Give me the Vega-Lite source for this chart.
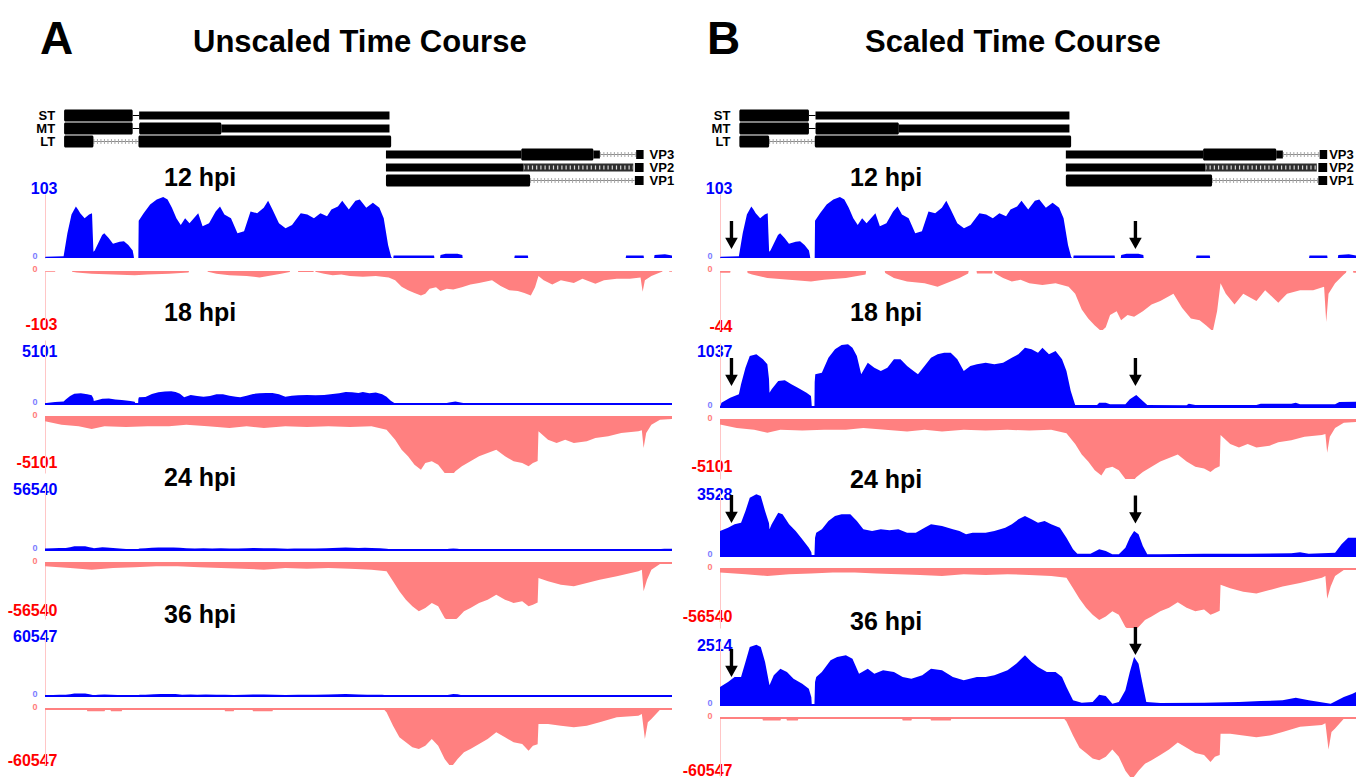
{
"$schema": "https://vega.github.io/schema/vega-lite/v6.json",
"padding": {"left": 7, "top": 17, "right": 0, "bottom": 0},
"background": "white",
"config": {
  "view": {"stroke": null},
  "font": "Liberation Sans",
  "title": {"font": "Liberation Sans", "fontWeight": "bold", "color": "#000000", "anchor": "start", "frame": "group"},
  "axisY": {
    "grid": false, "domainColor": "#ffc6c6", "domainWidth": 1,
    "tickSize": 7, "tickWidth": 1,
    "tickOpacity": {"condition": {"test": "datum.value == 0", "value": 1}, "value": 0},
    "labelFont": "Liberation Sans", "labelFontWeight": "bold",
    "labelFontSize": {"condition": {"test": "datum.value == 0", "value": 9}, "value": 16},
    "labelPadding": {"condition": {"test": "datum.value == 0", "value": 1}, "value": -19},
    "labelBaseline": {"condition": {"test": "datum.value == 0", "value": "alphabetic"}, "value": "middle"},
    "labelAlign": "right", "labelFlush": false, "labelOverlap": false, "labelBound": false,
    "labelExpr": "datum.value + ''"
  }
},
"datasets": {
  "genes": [
    {"gene":"ST","part":"cds","start":162,"end":744},
    {"gene":"ST","part":"link","start":744,"end":799},
    {"gene":"ST","part":"utr","start":799,"end":2923},
    {"gene":"MT","part":"cds","start":162,"end":744},
    {"gene":"MT","part":"link","start":744,"end":799},
    {"gene":"MT","part":"cds","start":799,"end":1496},
    {"gene":"MT","part":"utr","start":1496,"end":2923},
    {"gene":"LT","part":"cds","start":162,"end":411},
    {"gene":"LT","part":"intron","start":411,"end":793},
    {"gene":"LT","part":"cds","start":793,"end":2937},
    {"gene":"VP3","part":"utr","start":2893,"end":4041},
    {"gene":"VP3","part":"cds","start":4041,"end":4653},
    {"gene":"VP3","part":"utr","start":4653,"end":4708},
    {"gene":"VP3","part":"intron","start":4708,"end":5012},
    {"gene":"VP3","part":"cap","start":5016,"end":5079},
    {"gene":"VP2","part":"utr","start":2893,"end":4060},
    {"gene":"VP2","part":"chev","start":4060,"end":4992},
    {"gene":"VP2","part":"cap","start":5005,"end":5079},
    {"gene":"VP1","part":"cds","start":2893,"end":4116},
    {"gene":"VP1","part":"intron","start":4116,"end":5002},
    {"gene":"VP1","part":"cap","start":5005,"end":5079}
  ],
  "b12": [
    {"pos":0,"value":0},{"pos":5,"value":2},{"pos":158,"value":3},{"pos":190,"value":40},{"pos":225,"value":70},{"pos":262,"value":83},{"pos":280,"value":78},{"pos":299,"value":72},{"pos":336,"value":64},{"pos":374,"value":70},{"pos":399,"value":72},{"pos":405,"value":40},{"pos":411,"value":10},{"pos":422,"value":12},{"pos":485,"value":37},{"pos":503,"value":40},{"pos":540,"value":32},{"pos":577,"value":23},{"pos":633,"value":26},{"pos":670,"value":27},{"pos":707,"value":21},{"pos":744,"value":12},{"pos":752,"value":4},{"pos":755,"value":0},{"pos":792,"value":0},{"pos":795,"value":60},{"pos":837,"value":72},{"pos":892,"value":86},{"pos":948,"value":94},{"pos":1003,"value":98},{"pos":1040,"value":94},{"pos":1077,"value":81},{"pos":1115,"value":64},{"pos":1152,"value":53},{"pos":1189,"value":64},{"pos":1226,"value":56},{"pos":1263,"value":64},{"pos":1300,"value":72},{"pos":1337,"value":51},{"pos":1392,"value":56},{"pos":1448,"value":75},{"pos":1485,"value":83},{"pos":1522,"value":70},{"pos":1578,"value":64},{"pos":1633,"value":40},{"pos":1689,"value":43},{"pos":1744,"value":75},{"pos":1800,"value":72},{"pos":1856,"value":81},{"pos":1893,"value":92},{"pos":1930,"value":78},{"pos":1985,"value":56},{"pos":2041,"value":48},{"pos":2096,"value":53},{"pos":2170,"value":72},{"pos":2226,"value":70},{"pos":2282,"value":64},{"pos":2337,"value":72},{"pos":2393,"value":67},{"pos":2430,"value":78},{"pos":2485,"value":83},{"pos":2522,"value":92},{"pos":2578,"value":78},{"pos":2634,"value":92},{"pos":2671,"value":94},{"pos":2726,"value":81},{"pos":2782,"value":89},{"pos":2837,"value":81},{"pos":2874,"value":64},{"pos":2911,"value":21},{"pos":2937,"value":2},{"pos":2945,"value":0},{"pos":2955,"value":0},{"pos":2958,"value":4},{"pos":3301,"value":4},{"pos":3304,"value":0},{"pos":3352,"value":0},{"pos":3356,"value":5},{"pos":3400,"value":7},{"pos":3500,"value":7},{"pos":3541,"value":5},{"pos":3544,"value":0},{"pos":3982,"value":0},{"pos":3986,"value":4},{"pos":4097,"value":4},{"pos":4100,"value":0},{"pos":4927,"value":0},{"pos":4931,"value":4},{"pos":5079,"value":4},{"pos":5082,"value":0},{"pos":5168,"value":0},{"pos":5172,"value":5},{"pos":5260,"value":6},{"pos":5320,"value":4}
  ],
  "p12": [
    {"pos":0,"value":0},{"pos":2,"value":-1.3},{"pos":85,"value":-1.3},{"pos":88,"value":0},{"pos":228,"value":0},{"pos":231,"value":-1.5},{"pos":268,"value":-2.6},{"pos":396,"value":-5.2},{"pos":578,"value":-6.5},{"pos":761,"value":-7.9},{"pos":870,"value":-6.5},{"pos":1053,"value":-5.2},{"pos":1218,"value":-2.6},{"pos":1222,"value":0},{"pos":1378,"value":0},{"pos":1382,"value":-1.5},{"pos":1455,"value":-5.2},{"pos":1565,"value":-7.9},{"pos":1711,"value":-9.2},{"pos":1820,"value":-11.8},{"pos":1893,"value":-9.2},{"pos":2003,"value":-5.2},{"pos":2076,"value":-1.8},{"pos":2080,"value":0},{"pos":2146,"value":0},{"pos":2149,"value":-1.8},{"pos":2277,"value":-1.8},{"pos":2281,"value":0},{"pos":2292,"value":0},{"pos":2295,"value":-1.5},{"pos":2368,"value":-5.2},{"pos":2441,"value":-7.9},{"pos":2514,"value":-6.5},{"pos":2587,"value":-9.2},{"pos":2697,"value":-10.5},{"pos":2807,"value":-9.2},{"pos":2916,"value":-11.8},{"pos":2971,"value":-17},{"pos":3026,"value":-28.8},{"pos":3080,"value":-35.4},{"pos":3135,"value":-40.6},{"pos":3190,"value":-45},{"pos":3227,"value":-41.9},{"pos":3263,"value":-32.8},{"pos":3318,"value":-30.1},{"pos":3355,"value":-36.7},{"pos":3409,"value":-32.8},{"pos":3464,"value":-34.1},{"pos":3537,"value":-30.1},{"pos":3610,"value":-24.9},{"pos":3683,"value":-22.3},{"pos":3793,"value":-17},{"pos":3866,"value":-27.5},{"pos":3939,"value":-35.4},{"pos":4012,"value":-36.7},{"pos":4067,"value":-40.6},{"pos":4122,"value":-45},{"pos":4158,"value":-30.1},{"pos":4187,"value":-9.2},{"pos":4231,"value":-17},{"pos":4304,"value":-24.9},{"pos":4377,"value":-17},{"pos":4487,"value":-22.3},{"pos":4560,"value":-14.4},{"pos":4670,"value":-23.6},{"pos":4743,"value":-17},{"pos":4852,"value":-14.4},{"pos":4962,"value":-14.4},{"pos":5053,"value":-11.8},{"pos":5071,"value":-38},{"pos":5090,"value":-17},{"pos":5145,"value":-9.2},{"pos":5218,"value":-2.6},{"pos":5236,"value":-1.3},{"pos":5240,"value":0},{"pos":5295,"value":0},{"pos":5298,"value":-1.3},{"pos":5320,"value":-1.3}
  ],
  "b18": [
    {"pos":0,"value":0},{"pos":12,"value":70},{"pos":85,"value":151},{"pos":158,"value":205},{"pos":176,"value":367},{"pos":213,"value":637},{"pos":249,"value":826},{"pos":304,"value":853},{"pos":359,"value":772},{"pos":396,"value":691},{"pos":410,"value":450},{"pos":414,"value":232},{"pos":432,"value":286},{"pos":487,"value":421},{"pos":542,"value":432},{"pos":597,"value":367},{"pos":651,"value":313},{"pos":724,"value":232},{"pos":761,"value":178},{"pos":766,"value":60},{"pos":768,"value":0},{"pos":790,"value":0},{"pos":792,"value":400},{"pos":797,"value":529},{"pos":852,"value":556},{"pos":907,"value":799},{"pos":962,"value":934},{"pos":1017,"value":1004},{"pos":1071,"value":1015},{"pos":1108,"value":961},{"pos":1145,"value":826},{"pos":1181,"value":529},{"pos":1236,"value":718},{"pos":1291,"value":637},{"pos":1345,"value":583},{"pos":1400,"value":637},{"pos":1455,"value":772},{"pos":1510,"value":772},{"pos":1565,"value":664},{"pos":1619,"value":583},{"pos":1656,"value":529},{"pos":1711,"value":664},{"pos":1765,"value":799},{"pos":1820,"value":853},{"pos":1875,"value":880},{"pos":1930,"value":880},{"pos":1985,"value":772},{"pos":2039,"value":583},{"pos":2094,"value":664},{"pos":2149,"value":691},{"pos":2222,"value":718},{"pos":2295,"value":691},{"pos":2368,"value":718},{"pos":2441,"value":799},{"pos":2496,"value":853},{"pos":2551,"value":961},{"pos":2606,"value":934},{"pos":2660,"value":880},{"pos":2697,"value":961},{"pos":2752,"value":853},{"pos":2807,"value":907},{"pos":2861,"value":772},{"pos":2898,"value":583},{"pos":2934,"value":259},{"pos":2971,"value":32},{"pos":3154,"value":32},{"pos":3172,"value":70},{"pos":3227,"value":70},{"pos":3263,"value":43},{"pos":3391,"value":43},{"pos":3428,"value":124},{"pos":3482,"value":194},{"pos":3537,"value":97},{"pos":3574,"value":32},{"pos":3903,"value":27},{"pos":3921,"value":54},{"pos":3976,"value":32},{"pos":4487,"value":32},{"pos":4523,"value":54},{"pos":4779,"value":54},{"pos":4816,"value":70},{"pos":4852,"value":43},{"pos":5145,"value":43},{"pos":5181,"value":81},{"pos":5320,"value":86}
  ],
  "p18": [
    {"pos":0,"value":-395},{"pos":140,"value":-698},{"pos":286,"value":-850},{"pos":396,"value":-1093},{"pos":505,"value":-850},{"pos":688,"value":-911},{"pos":870,"value":-850},{"pos":1053,"value":-850},{"pos":1199,"value":-698},{"pos":1382,"value":-850},{"pos":1565,"value":-1002},{"pos":1711,"value":-850},{"pos":1857,"value":-1002},{"pos":2039,"value":-850},{"pos":2222,"value":-911},{"pos":2405,"value":-850},{"pos":2587,"value":-911},{"pos":2770,"value":-850},{"pos":2898,"value":-1154},{"pos":2971,"value":-2065},{"pos":3026,"value":-2975},{"pos":3080,"value":-3582},{"pos":3135,"value":-4341},{"pos":3190,"value":-4797},{"pos":3227,"value":-4190},{"pos":3282,"value":-4038},{"pos":3336,"value":-4341},{"pos":3391,"value":-5100},{"pos":3446,"value":-5404},{"pos":3482,"value":-4949},{"pos":3537,"value":-4493},{"pos":3610,"value":-4038},{"pos":3683,"value":-3582},{"pos":3756,"value":-3279},{"pos":3829,"value":-2975},{"pos":3903,"value":-3582},{"pos":3976,"value":-4038},{"pos":4049,"value":-4190},{"pos":4103,"value":-4493},{"pos":4140,"value":-4190},{"pos":4180,"value":-4000},{"pos":4187,"value":-1305},{"pos":4268,"value":-2065},{"pos":4341,"value":-2368},{"pos":4414,"value":-2065},{"pos":4487,"value":-2368},{"pos":4597,"value":-2216},{"pos":4670,"value":-1913},{"pos":4779,"value":-1761},{"pos":4889,"value":-1457},{"pos":5035,"value":-1305},{"pos":5064,"value":-1200},{"pos":5079,"value":-2823},{"pos":5101,"value":-1457},{"pos":5145,"value":-698},{"pos":5218,"value":-243},{"pos":5320,"value":-182}
  ],
  "b24": [
    {"pos":0,"value":1378},{"pos":67,"value":1562},{"pos":122,"value":1746},{"pos":176,"value":1838},{"pos":213,"value":2481},{"pos":249,"value":3216},{"pos":304,"value":3400},{"pos":341,"value":3308},{"pos":377,"value":2481},{"pos":410,"value":1800},{"pos":414,"value":1470},{"pos":432,"value":1746},{"pos":487,"value":2389},{"pos":523,"value":2297},{"pos":578,"value":1746},{"pos":633,"value":1378},{"pos":688,"value":919},{"pos":743,"value":459},{"pos":764,"value":200},{"pos":768,"value":0},{"pos":790,"value":0},{"pos":795,"value":1000},{"pos":805,"value":1286},{"pos":852,"value":1470},{"pos":907,"value":1929},{"pos":962,"value":2205},{"pos":1017,"value":2297},{"pos":1090,"value":2297},{"pos":1145,"value":1929},{"pos":1199,"value":1470},{"pos":1272,"value":1378},{"pos":1345,"value":1470},{"pos":1418,"value":1415},{"pos":1492,"value":1470},{"pos":1565,"value":1286},{"pos":1638,"value":1286},{"pos":1711,"value":1562},{"pos":1765,"value":1746},{"pos":1857,"value":1654},{"pos":1948,"value":1470},{"pos":2003,"value":1378},{"pos":2058,"value":1194},{"pos":2113,"value":1286},{"pos":2222,"value":1286},{"pos":2295,"value":1378},{"pos":2386,"value":1562},{"pos":2441,"value":1746},{"pos":2496,"value":2021},{"pos":2551,"value":2205},{"pos":2606,"value":2021},{"pos":2660,"value":1838},{"pos":2715,"value":1929},{"pos":2770,"value":1746},{"pos":2843,"value":1562},{"pos":2898,"value":1011},{"pos":2953,"value":368},{"pos":2989,"value":129},{"pos":3099,"value":129},{"pos":3172,"value":368},{"pos":3227,"value":276},{"pos":3282,"value":92},{"pos":3336,"value":92},{"pos":3391,"value":459},{"pos":3428,"value":1011},{"pos":3464,"value":1378},{"pos":3501,"value":1194},{"pos":3537,"value":551},{"pos":3574,"value":92},{"pos":3683,"value":92},{"pos":4049,"value":129},{"pos":4414,"value":129},{"pos":4779,"value":147},{"pos":4852,"value":202},{"pos":4925,"value":129},{"pos":5145,"value":184},{"pos":5199,"value":643},{"pos":5254,"value":1011},{"pos":5320,"value":1011}
  ],
  "p24": [
    {"pos":0,"value":-3365},{"pos":213,"value":-5048},{"pos":396,"value":-6730},{"pos":578,"value":-5048},{"pos":761,"value":-4375},{"pos":944,"value":-3365},{"pos":1126,"value":-3365},{"pos":1309,"value":-4375},{"pos":1492,"value":-5048},{"pos":1674,"value":-5721},{"pos":1857,"value":-6730},{"pos":2039,"value":-5048},{"pos":2222,"value":-5721},{"pos":2405,"value":-5048},{"pos":2587,"value":-5721},{"pos":2770,"value":-6730},{"pos":2898,"value":-8413},{"pos":2953,"value":-18508},{"pos":3007,"value":-28603},{"pos":3062,"value":-37015},{"pos":3117,"value":-43745},{"pos":3172,"value":-48793},{"pos":3227,"value":-45428},{"pos":3282,"value":-40380},{"pos":3336,"value":-43745},{"pos":3391,"value":-55523},{"pos":3446,"value":-60570},{"pos":3501,"value":-55523},{"pos":3555,"value":-48793},{"pos":3610,"value":-45428},{"pos":3683,"value":-40380},{"pos":3756,"value":-37015},{"pos":3829,"value":-31968},{"pos":3903,"value":-37015},{"pos":3976,"value":-40380},{"pos":4049,"value":-38698},{"pos":4103,"value":-43745},{"pos":4140,"value":-42063},{"pos":4180,"value":-40000},{"pos":4187,"value":-15143},{"pos":4268,"value":-18508},{"pos":4377,"value":-21873},{"pos":4487,"value":-23555},{"pos":4597,"value":-20190},{"pos":4706,"value":-16825},{"pos":4852,"value":-13460},{"pos":5035,"value":-8413},{"pos":5064,"value":-6730},{"pos":5079,"value":-28603},{"pos":5108,"value":-16825},{"pos":5145,"value":-6730},{"pos":5218,"value":-1010},{"pos":5320,"value":-1010}
  ],
  "b36": [
    {"pos":0,"value":707},{"pos":67,"value":903},{"pos":122,"value":1100},{"pos":176,"value":1100},{"pos":213,"value":1689},{"pos":249,"value":2278},{"pos":304,"value":2369},{"pos":341,"value":2278},{"pos":377,"value":1689},{"pos":414,"value":772},{"pos":450,"value":1165},{"pos":505,"value":1427},{"pos":560,"value":1296},{"pos":615,"value":1034},{"pos":688,"value":838},{"pos":743,"value":641},{"pos":764,"value":300},{"pos":768,"value":0},{"pos":790,"value":0},{"pos":795,"value":900},{"pos":805,"value":1100},{"pos":852,"value":1296},{"pos":925,"value":1754},{"pos":980,"value":1885},{"pos":1053,"value":1950},{"pos":1108,"value":1820},{"pos":1163,"value":1230},{"pos":1236,"value":1427},{"pos":1291,"value":1230},{"pos":1364,"value":1361},{"pos":1455,"value":1296},{"pos":1528,"value":1100},{"pos":1601,"value":1034},{"pos":1692,"value":1165},{"pos":1765,"value":1427},{"pos":1857,"value":1361},{"pos":1948,"value":1100},{"pos":2039,"value":969},{"pos":2149,"value":1100},{"pos":2222,"value":1100},{"pos":2295,"value":1165},{"pos":2405,"value":1361},{"pos":2478,"value":1623},{"pos":2551,"value":1950},{"pos":2606,"value":1689},{"pos":2660,"value":1492},{"pos":2734,"value":1296},{"pos":2807,"value":1296},{"pos":2861,"value":1100},{"pos":2898,"value":707},{"pos":2953,"value":183},{"pos":3026,"value":92},{"pos":3117,"value":118},{"pos":3172,"value":406},{"pos":3227,"value":353},{"pos":3282,"value":52},{"pos":3336,"value":118},{"pos":3391,"value":576},{"pos":3428,"value":1296},{"pos":3464,"value":1885},{"pos":3501,"value":1623},{"pos":3537,"value":772},{"pos":3566,"value":118},{"pos":3683,"value":79},{"pos":4049,"value":92},{"pos":4341,"value":118},{"pos":4523,"value":157},{"pos":4706,"value":183},{"pos":4816,"value":288},{"pos":4925,"value":183},{"pos":5108,"value":52},{"pos":5218,"value":314},{"pos":5291,"value":445},{"pos":5320,"value":510}
  ],
  "p36": [
    {"pos":0,"value":-720},{"pos":355,"value":-720},{"pos":359,"value":-2523},{"pos":505,"value":-2523},{"pos":510,"value":-1081},{"pos":556,"value":-1081},{"pos":560,"value":-2523},{"pos":651,"value":-2523},{"pos":655,"value":-1081},{"pos":1524,"value":-1081},{"pos":1528,"value":-2523},{"pos":1601,"value":-2523},{"pos":1605,"value":-1081},{"pos":1761,"value":-1081},{"pos":1765,"value":-2523},{"pos":1930,"value":-2523},{"pos":1934,"value":-1081},{"pos":2880,"value":-1081},{"pos":2898,"value":-3604},{"pos":2953,"value":-18020},{"pos":3007,"value":-30634},{"pos":3062,"value":-36040},{"pos":3117,"value":-41446},{"pos":3172,"value":-43248},{"pos":3227,"value":-39644},{"pos":3282,"value":-32436},{"pos":3336,"value":-39644},{"pos":3391,"value":-54060},{"pos":3446,"value":-63070},{"pos":3501,"value":-54060},{"pos":3555,"value":-46852},{"pos":3610,"value":-43248},{"pos":3683,"value":-37842},{"pos":3756,"value":-32436},{"pos":3829,"value":-25228},{"pos":3903,"value":-30634},{"pos":3976,"value":-36040},{"pos":4049,"value":-37842},{"pos":4103,"value":-45050},{"pos":4140,"value":-39644},{"pos":4180,"value":-38000},{"pos":4187,"value":-16218},{"pos":4268,"value":-16218},{"pos":4377,"value":-18020},{"pos":4487,"value":-19822},{"pos":4597,"value":-18020},{"pos":4706,"value":-14416},{"pos":4852,"value":-9010},{"pos":5035,"value":-7208},{"pos":5064,"value":-5400},{"pos":5090,"value":-32436},{"pos":5115,"value":-14416},{"pos":5145,"value":-10812},{"pos":5218,"value":-720},{"pos":5320,"value":-720}
  ]
},
"spacing": 7,
"hconcat": [
 {
  "title": {"text": "A", "fontSize": 46, "dx": -5, "offset": -37},
  "bounds": "flush", "spacing": 13,
  "vconcat": [
   {
    "width": 627, "height": 71.5,
    "data": {"name": "genes"},
    "title": {"text": "Unscaled Time Course", "fontSize": 31, "dx": 148, "offset": 50},
    "layer": [
     {"transform": [{"filter": "datum.part == 'intron'"}], "mark": {"type": "rule", "color": "#8a8a8a", "strokeWidth": 1}, "encoding": {"x": {"field": "start", "type": "quantitative", "scale": {"domain": [0, 5320], "nice": false, "zero": false}, "axis": null}, "x2": {"field": "end"}, "y": {"field": "gene", "type": "nominal", "scale": {"domain": ["ST","MT","LT","VP3","VP2","VP1"], "range": [0, 78], "paddingInner": 0, "paddingOuter": 0}, "axis": null}}},
     {"transform": [{"filter": "datum.part == 'intron'"}], "mark": {"type": "rule", "color": "#a8a8a8", "strokeWidth": 5, "strokeDash": [1, 2.5]}, "encoding": {"x": {"field": "start", "type": "quantitative"}, "x2": {"field": "end"}, "y": {"field": "gene", "type": "nominal"}}},
     {"transform": [{"filter": "datum.part == 'link'"}], "mark": {"type": "rule", "color": "#000000", "strokeWidth": 1}, "encoding": {"x": {"field": "start", "type": "quantitative"}, "x2": {"field": "end"}, "y": {"field": "gene", "type": "nominal"}}},
     {"transform": [{"filter": "datum.part == 'chev'"}], "mark": {"type": "bar", "color": "#2e2e2e", "size": 8}, "encoding": {"x": {"field": "start", "type": "quantitative"}, "x2": {"field": "end"}, "y": {"field": "gene", "type": "nominal"}}},
     {"transform": [{"filter": "datum.part == 'chev'"}], "mark": {"type": "rule", "color": "#d8d8d8", "strokeWidth": 4, "strokeDash": [1.2, 3]}, "encoding": {"x": {"field": "start", "type": "quantitative"}, "x2": {"field": "end"}, "y": {"field": "gene", "type": "nominal"}}},
     {"transform": [{"filter": "datum.part == 'utr'"}], "mark": {"type": "bar", "color": "#000000", "size": 8}, "encoding": {"x": {"field": "start", "type": "quantitative"}, "x2": {"field": "end"}, "y": {"field": "gene", "type": "nominal"}}},
     {"transform": [{"filter": "datum.part == 'cds'"}], "mark": {"type": "bar", "color": "#000000", "size": 12, "cornerRadius": 1.5}, "encoding": {"x": {"field": "start", "type": "quantitative"}, "x2": {"field": "end"}, "y": {"field": "gene", "type": "nominal"}}},
     {"transform": [{"filter": "datum.part == 'cap'"}], "mark": {"type": "bar", "color": "#000000", "size": 9}, "encoding": {"x": {"field": "start", "type": "quantitative"}, "x2": {"field": "end"}, "y": {"field": "gene", "type": "nominal"}}},
     {"data": {"values": [{"gene":"ST","pos":162},{"gene":"MT","pos":162},{"gene":"LT","pos":162}]}, "mark": {"type": "text", "align": "right", "baseline": "middle", "dx": -9, "fontSize": 13, "fontWeight": "bold", "color": "#000000"}, "encoding": {"x": {"field": "pos", "type": "quantitative"}, "y": {"field": "gene", "type": "nominal"}, "text": {"field": "gene"}}},
     {"data": {"values": [{"gene":"VP3","pos":5079},{"gene":"VP2","pos":5079},{"gene":"VP1","pos":5079}]}, "mark": {"type": "text", "align": "left", "baseline": "middle", "dx": 6, "fontSize": 13, "fontWeight": "bold", "color": "#000000"}, "encoding": {"x": {"field": "pos", "type": "quantitative"}, "y": {"field": "gene", "type": "nominal"}, "text": {"field": "gene"}}}
    ]
   },
   {"width": 627, "height": 64, "data": {"name": "b12"},
    "title": {"text": "12 hpi", "fontSize": 25, "dx": 119, "offset": -11},
    "layer": [
     {"mark": {"type": "area", "color": "#0000ff", "clip": true},
      "encoding": {"x": {"field": "pos", "type": "quantitative", "scale": {"domain": [0, 5320], "nice": false, "zero": false}, "axis": null},
       "y": {"field": "value", "type": "quantitative", "stack": null, "scale": {"domain": [0, 103], "nice": false, "zero": false},
        "axis": {"title": null, "values": [0, 103], "labelColor": {"condition": {"test": "datum.value == 0", "value": "#7c7cff"}, "value": "#0000ff"}, "tickColor": "#7c7cff", "labelOffset": {"condition": {"test": "datum.value == 0", "value": 0}, "value": -6}}}}}
    ]},
   {"width": 627, "height": 56, "data": {"name": "p12"},
    "layer": [
     {"mark": {"type": "area", "color": "#ff8080", "clip": true},
      "encoding": {"x": {"field": "pos", "type": "quantitative", "scale": {"domain": [0, 5320], "nice": false, "zero": false}, "axis": null},
       "y": {"field": "value", "type": "quantitative", "stack": null, "scale": {"domain": [-103, 0], "nice": false, "zero": false},
        "axis": {"title": null, "values": [-103, 0], "labelColor": {"condition": {"test": "datum.value == 0", "value": "#ff7c7c"}, "value": "#ff0000"}, "tickColor": "#ff7c7c", "labelOffset": {"condition": {"test": "datum.value == 0", "value": 0}, "value": -3}}}}}
    ]},
   {"width": 627, "height": 64, "data": {"name": "b18"},
    "title": {"text": "18 hpi", "fontSize": 25, "dx": 119, "offset": 14},
    "layer": [
     {"mark": {"type": "rule", "color": "#0000ff", "strokeWidth": 2}, "encoding": {"y": {"datum": 0}}},
     {"mark": {"type": "area", "color": "#0000ff", "clip": true},
      "encoding": {"x": {"field": "pos", "type": "quantitative", "scale": {"domain": [0, 5320], "nice": false, "zero": false}, "axis": null},
       "y": {"field": "value", "type": "quantitative", "stack": null, "scale": {"domain": [0, 5101], "nice": false, "zero": false},
        "axis": {"title": null, "values": [0, 5101], "labelColor": {"condition": {"test": "datum.value == 0", "value": "#7c7cff"}, "value": "#0000ff"}, "tickColor": "#7c7cff", "labelOffset": {"condition": {"test": "datum.value == 0", "value": 0}, "value": 11}}}}}
    ]},
   {"width": 627, "height": 56, "data": {"name": "p18"},
    "layer": [
     {"mark": {"type": "rule", "color": "#ff8080", "strokeWidth": 1.5}, "encoding": {"y": {"datum": 0}}},
     {"mark": {"type": "area", "color": "#ff8080", "clip": true},
      "encoding": {"x": {"field": "pos", "type": "quantitative", "scale": {"domain": [0, 5320], "nice": false, "zero": false}, "axis": null},
       "y": {"field": "value", "type": "quantitative", "stack": null, "scale": {"domain": [-5101, 0], "nice": false, "zero": false},
        "axis": {"title": null, "values": [-5101, 0], "labelColor": {"condition": {"test": "datum.value == 0", "value": "#ff7c7c"}, "value": "#ff0000"}, "tickColor": "#ff7c7c", "labelOffset": {"condition": {"test": "datum.value == 0", "value": 0}, "value": -11}}}}}
    ]},
   {"width": 627, "height": 64, "data": {"name": "b24"},
    "title": {"text": "24 hpi", "fontSize": 25, "dx": 119, "offset": -10},
    "layer": [
     {"mark": {"type": "rule", "color": "#0000ff", "strokeWidth": 2}, "encoding": {"y": {"datum": 0}}},
     {"mark": {"type": "area", "color": "#0000ff", "clip": true},
      "encoding": {"x": {"field": "pos", "type": "quantitative", "scale": {"domain": [0, 5320], "nice": false, "zero": false}, "axis": null},
       "y": {"field": "value", "type": "quantitative", "stack": null, "scale": {"domain": [0, 56540], "nice": false, "zero": false},
        "axis": {"title": null, "values": [0, 56540], "labelColor": {"condition": {"test": "datum.value == 0", "value": "#7c7cff"}, "value": "#0000ff"}, "tickColor": "#7c7cff", "labelOffset": {"condition": {"test": "datum.value == 0", "value": 0}, "value": 3}}}}}
    ]},
   {"width": 627, "height": 56, "data": {"name": "p24"},
    "layer": [
     {"mark": {"type": "rule", "color": "#ff8080", "strokeWidth": 1.5}, "encoding": {"y": {"datum": 0}}},
     {"mark": {"type": "area", "color": "#ff8080", "clip": true},
      "encoding": {"x": {"field": "pos", "type": "quantitative", "scale": {"domain": [0, 5320], "nice": false, "zero": false}, "axis": null},
       "y": {"field": "value", "type": "quantitative", "stack": null, "scale": {"domain": [-56540, 0], "nice": false, "zero": false},
        "axis": {"title": null, "values": [-56540, 0], "labelColor": {"condition": {"test": "datum.value == 0", "value": "#ff7c7c"}, "value": "#ff0000"}, "tickColor": "#ff7c7c", "labelOffset": {"condition": {"test": "datum.value == 0", "value": 0}, "value": -9}}}}}
    ]},
   {"width": 627, "height": 64, "data": {"name": "b36"},
    "title": {"text": "36 hpi", "fontSize": 25, "dx": 119, "offset": 0},
    "layer": [
     {"mark": {"type": "rule", "color": "#0000ff", "strokeWidth": 2}, "encoding": {"y": {"datum": 0}}},
     {"mark": {"type": "area", "color": "#0000ff", "clip": true},
      "encoding": {"x": {"field": "pos", "type": "quantitative", "scale": {"domain": [0, 5320], "nice": false, "zero": false}, "axis": null},
       "y": {"field": "value", "type": "quantitative", "stack": null, "scale": {"domain": [0, 60547], "nice": false, "zero": false},
        "axis": {"title": null, "values": [0, 60547], "labelColor": {"condition": {"test": "datum.value == 0", "value": "#7c7cff"}, "value": "#0000ff"}, "tickColor": "#7c7cff", "labelOffset": {"condition": {"test": "datum.value == 0", "value": 0}, "value": 4}}}}}
    ]},
   {"width": 627, "height": 56, "data": {"name": "p36"},
    "layer": [
     {"mark": {"type": "rule", "color": "#ff8080", "strokeWidth": 1.5}, "encoding": {"y": {"datum": 0}}},
     {"mark": {"type": "area", "color": "#ff8080", "clip": true},
      "encoding": {"x": {"field": "pos", "type": "quantitative", "scale": {"domain": [0, 5320], "nice": false, "zero": false}, "axis": null},
       "y": {"field": "value", "type": "quantitative", "stack": null, "scale": {"domain": [-60547, 0], "nice": false, "zero": false},
        "axis": {"title": null, "values": [-60547, 0], "labelColor": {"condition": {"test": "datum.value == 0", "value": "#ff7c7c"}, "value": "#ff0000"}, "tickColor": "#ff7c7c", "labelOffset": {"condition": {"test": "datum.value == 0", "value": 0}, "value": -5}}}}}
    ]}
  ]
 },
 {
  "title": {"text": "B", "fontSize": 46, "dx": -13, "offset": -37},
  "bounds": "flush", "spacing": 13,
  "vconcat": [
   {
    "width": 636, "height": 71.5,
    "data": {"name": "genes"},
    "title": {"text": "Scaled Time Course", "fontSize": 31, "dx": 145, "offset": 50},
    "layer": [
     {"transform": [{"filter": "datum.part == 'intron'"}], "mark": {"type": "rule", "color": "#8a8a8a", "strokeWidth": 1}, "encoding": {"x": {"field": "start", "type": "quantitative", "scale": {"domain": [0, 5320], "nice": false, "zero": false}, "axis": null}, "x2": {"field": "end"}, "y": {"field": "gene", "type": "nominal", "scale": {"domain": ["ST","MT","LT","VP3","VP2","VP1"], "range": [0, 78], "paddingInner": 0, "paddingOuter": 0}, "axis": null}}},
     {"transform": [{"filter": "datum.part == 'intron'"}], "mark": {"type": "rule", "color": "#a8a8a8", "strokeWidth": 5, "strokeDash": [1, 2.5]}, "encoding": {"x": {"field": "start", "type": "quantitative"}, "x2": {"field": "end"}, "y": {"field": "gene", "type": "nominal"}}},
     {"transform": [{"filter": "datum.part == 'link'"}], "mark": {"type": "rule", "color": "#000000", "strokeWidth": 1}, "encoding": {"x": {"field": "start", "type": "quantitative"}, "x2": {"field": "end"}, "y": {"field": "gene", "type": "nominal"}}},
     {"transform": [{"filter": "datum.part == 'chev'"}], "mark": {"type": "bar", "color": "#2e2e2e", "size": 8}, "encoding": {"x": {"field": "start", "type": "quantitative"}, "x2": {"field": "end"}, "y": {"field": "gene", "type": "nominal"}}},
     {"transform": [{"filter": "datum.part == 'chev'"}], "mark": {"type": "rule", "color": "#d8d8d8", "strokeWidth": 4, "strokeDash": [1.2, 3]}, "encoding": {"x": {"field": "start", "type": "quantitative"}, "x2": {"field": "end"}, "y": {"field": "gene", "type": "nominal"}}},
     {"transform": [{"filter": "datum.part == 'utr'"}], "mark": {"type": "bar", "color": "#000000", "size": 8}, "encoding": {"x": {"field": "start", "type": "quantitative"}, "x2": {"field": "end"}, "y": {"field": "gene", "type": "nominal"}}},
     {"transform": [{"filter": "datum.part == 'cds'"}], "mark": {"type": "bar", "color": "#000000", "size": 12, "cornerRadius": 1.5}, "encoding": {"x": {"field": "start", "type": "quantitative"}, "x2": {"field": "end"}, "y": {"field": "gene", "type": "nominal"}}},
     {"transform": [{"filter": "datum.part == 'cap'"}], "mark": {"type": "bar", "color": "#000000", "size": 9}, "encoding": {"x": {"field": "start", "type": "quantitative"}, "x2": {"field": "end"}, "y": {"field": "gene", "type": "nominal"}}},
     {"data": {"values": [{"gene":"ST","pos":162},{"gene":"MT","pos":162},{"gene":"LT","pos":162}]}, "mark": {"type": "text", "align": "right", "baseline": "middle", "dx": -9, "fontSize": 13, "fontWeight": "bold", "color": "#000000"}, "encoding": {"x": {"field": "pos", "type": "quantitative"}, "y": {"field": "gene", "type": "nominal"}, "text": {"field": "gene"}}},
     {"data": {"values": [{"gene":"VP3","pos":5079},{"gene":"VP2","pos":5079},{"gene":"VP1","pos":5079}]}, "mark": {"type": "text", "align": "left", "baseline": "middle", "dx": 2, "fontSize": 13, "fontWeight": "bold", "color": "#000000"}, "encoding": {"x": {"field": "pos", "type": "quantitative"}, "y": {"field": "gene", "type": "nominal"}, "text": {"field": "gene"}}}
    ]
   },
   {"width": 636, "height": 64, "data": {"name": "b12"},
    "title": {"text": "12 hpi", "fontSize": 25, "dx": 130, "offset": -11},
    "layer": [
     {"mark": {"type": "area", "color": "#0000ff", "clip": true},
      "encoding": {"x": {"field": "pos", "type": "quantitative", "scale": {"domain": [0, 5320], "nice": false, "zero": false}, "axis": null},
       "y": {"field": "value", "type": "quantitative", "stack": null, "scale": {"domain": [0, 103], "nice": false, "zero": false},
        "axis": {"title": null, "values": [0, 103], "labelColor": {"condition": {"test": "datum.value == 0", "value": "#7c7cff"}, "value": "#0000ff"}, "tickColor": "#7c7cff", "labelOffset": {"condition": {"test": "datum.value == 0", "value": 0}, "value": -6}}}}},
     {"data": {"values": [{"pos": 96, "value": 14.5}, {"pos": 3475, "value": 14.5}]},
      "mark": {"type": "point", "shape": "M0,0L-0.45,-0.8L-0.12,-0.8L-0.12,-2L0.12,-2L0.12,-0.8L0.45,-0.8Z", "size": 784, "filled": true, "color": "#000000", "opacity": 1},
      "encoding": {"x": {"field": "pos", "type": "quantitative"}, "y": {"field": "value", "type": "quantitative"}}}
    ]},
   {"width": 636, "height": 59, "data": {"name": "p12"},
    "layer": [
     {"mark": {"type": "area", "color": "#ff8080", "clip": true},
      "encoding": {"x": {"field": "pos", "type": "quantitative", "scale": {"domain": [0, 5320], "nice": false, "zero": false}, "axis": null},
       "y": {"field": "value", "type": "quantitative", "stack": null, "scale": {"domain": [-44, 0], "nice": false, "zero": false},
        "axis": {"title": null, "values": [-44, 0], "labelColor": {"condition": {"test": "datum.value == 0", "value": "#ff7c7c"}, "value": "#ff0000"}, "tickColor": "#ff7c7c", "labelOffset": {"condition": {"test": "datum.value == 0", "value": 0}, "value": -4}}}}}
    ]},
   {"width": 636, "height": 64, "data": {"name": "b18"},
    "title": {"text": "18 hpi", "fontSize": 25, "dx": 130, "offset": 17},
    "layer": [
     {"mark": {"type": "rule", "color": "#0000ff", "strokeWidth": 2}, "encoding": {"y": {"datum": 0}}},
     {"mark": {"type": "area", "color": "#0000ff", "clip": true},
      "encoding": {"x": {"field": "pos", "type": "quantitative", "scale": {"domain": [0, 5320], "nice": false, "zero": false}, "axis": null},
       "y": {"field": "value", "type": "quantitative", "stack": null, "scale": {"domain": [0, 1037], "nice": false, "zero": false},
        "axis": {"title": null, "values": [0, 1037], "labelColor": {"condition": {"test": "datum.value == 0", "value": "#7c7cff"}, "value": "#0000ff"}, "tickColor": "#7c7cff", "labelOffset": {"condition": {"test": "datum.value == 0", "value": 0}, "value": 8}}}}},
     {"data": {"values": [{"pos": 96, "value": 340}, {"pos": 3475, "value": 340}]},
      "mark": {"type": "point", "shape": "M0,0L-0.45,-0.8L-0.12,-0.8L-0.12,-2L0.12,-2L0.12,-0.8L0.45,-0.8Z", "size": 784, "filled": true, "color": "#000000", "opacity": 1},
      "encoding": {"x": {"field": "pos", "type": "quantitative"}, "y": {"field": "value", "type": "quantitative"}}}
    ]},
   {"width": 636, "height": 59, "data": {"name": "p18"},
    "layer": [
     {"mark": {"type": "rule", "color": "#ff8080", "strokeWidth": 1.5}, "encoding": {"y": {"datum": 0}}},
     {"mark": {"type": "area", "color": "#ff8080", "clip": true},
      "encoding": {"x": {"field": "pos", "type": "quantitative", "scale": {"domain": [0, 5320], "nice": false, "zero": false}, "axis": null},
       "y": {"field": "value", "type": "quantitative", "stack": null, "scale": {"domain": [-5101, 0], "nice": false, "zero": false},
        "axis": {"title": null, "values": [-5101, 0], "labelColor": {"condition": {"test": "datum.value == 0", "value": "#ff7c7c"}, "value": "#ff0000"}, "tickColor": "#ff7c7c", "labelOffset": {"condition": {"test": "datum.value == 0", "value": 0}, "value": -13}}}}}
    ]},
   {"width": 636, "height": 64, "data": {"name": "b24"},
    "title": {"text": "24 hpi", "fontSize": 25, "dx": 130, "offset": -7},
    "layer": [
     {"mark": {"type": "rule", "color": "#0000ff", "strokeWidth": 2}, "encoding": {"y": {"datum": 0}}},
     {"mark": {"type": "area", "color": "#0000ff", "clip": true},
      "encoding": {"x": {"field": "pos", "type": "quantitative", "scale": {"domain": [0, 5320], "nice": false, "zero": false}, "axis": null},
       "y": {"field": "value", "type": "quantitative", "stack": null, "scale": {"domain": [0, 3528], "nice": false, "zero": false},
        "axis": {"title": null, "values": [0, 3528], "labelColor": {"condition": {"test": "datum.value == 0", "value": "#7c7cff"}, "value": "#0000ff"}, "tickColor": "#7c7cff", "labelOffset": {"condition": {"test": "datum.value == 0", "value": 0}, "value": 2}}}}},
     {"data": {"values": [{"pos": 96, "value": 1819}, {"pos": 3475, "value": 1790}]},
      "mark": {"type": "point", "shape": "M0,0L-0.45,-0.8L-0.12,-0.8L-0.12,-2L0.12,-2L0.12,-0.8L0.45,-0.8Z", "size": 784, "filled": true, "color": "#000000", "opacity": 1},
      "encoding": {"x": {"field": "pos", "type": "quantitative"}, "y": {"field": "value", "type": "quantitative"}}}
    ]},
   {"width": 636, "height": 59, "data": {"name": "p24"},
    "layer": [
     {"mark": {"type": "rule", "color": "#ff8080", "strokeWidth": 1.5}, "encoding": {"y": {"datum": 0}}},
     {"mark": {"type": "area", "color": "#ff8080", "clip": true},
      "encoding": {"x": {"field": "pos", "type": "quantitative", "scale": {"domain": [0, 5320], "nice": false, "zero": false}, "axis": null},
       "y": {"field": "value", "type": "quantitative", "stack": null, "scale": {"domain": [-56540, 0], "nice": false, "zero": false},
        "axis": {"title": null, "values": [-56540, 0], "labelColor": {"condition": {"test": "datum.value == 0", "value": "#ff7c7c"}, "value": "#ff0000"}, "tickColor": "#ff7c7c", "labelOffset": {"condition": {"test": "datum.value == 0", "value": 0}, "value": -12}}}}}
    ]},
   {"width": 636, "height": 64, "data": {"name": "b36"},
    "title": {"text": "36 hpi", "fontSize": 25, "dx": 130, "offset": -8},
    "layer": [
     {"mark": {"type": "rule", "color": "#0000ff", "strokeWidth": 2}, "encoding": {"y": {"datum": 0}}},
     {"mark": {"type": "area", "color": "#0000ff", "clip": true},
      "encoding": {"x": {"field": "pos", "type": "quantitative", "scale": {"domain": [0, 5320], "nice": false, "zero": false}, "axis": null},
       "y": {"field": "value", "type": "quantitative", "stack": null, "scale": {"domain": [0, 2514], "nice": false, "zero": false},
        "axis": {"title": null, "values": [0, 2514], "labelColor": {"condition": {"test": "datum.value == 0", "value": "#7c7cff"}, "value": "#0000ff"}, "tickColor": "#7c7cff", "labelOffset": {"condition": {"test": "datum.value == 0", "value": 0}, "value": 4}}}}},
     {"data": {"values": [{"pos": 96, "value": 1100}, {"pos": 3475, "value": 1964}]},
      "mark": {"type": "point", "shape": "M0,0L-0.45,-0.8L-0.12,-0.8L-0.12,-2L0.12,-2L0.12,-0.8L0.45,-0.8Z", "size": 784, "filled": true, "color": "#000000", "opacity": 1},
      "encoding": {"x": {"field": "pos", "type": "quantitative"}, "y": {"field": "value", "type": "quantitative"}}}
    ]},
   {"width": 636, "height": 59, "data": {"name": "p36"},
    "layer": [
     {"mark": {"type": "rule", "color": "#ff8080", "strokeWidth": 1.5}, "encoding": {"y": {"datum": 0}}},
     {"mark": {"type": "area", "color": "#ff8080", "clip": true},
      "encoding": {"x": {"field": "pos", "type": "quantitative", "scale": {"domain": [0, 5320], "nice": false, "zero": false}, "axis": null},
       "y": {"field": "value", "type": "quantitative", "stack": null, "scale": {"domain": [-60547, 0], "nice": false, "zero": false},
        "axis": {"title": null, "values": [-60547, 0], "labelColor": {"condition": {"test": "datum.value == 0", "value": "#ff7c7c"}, "value": "#ff0000"}, "tickColor": "#ff7c7c", "labelOffset": {"condition": {"test": "datum.value == 0", "value": 0}, "value": -7}}}}}
    ]}
  ]
 }
]
}
